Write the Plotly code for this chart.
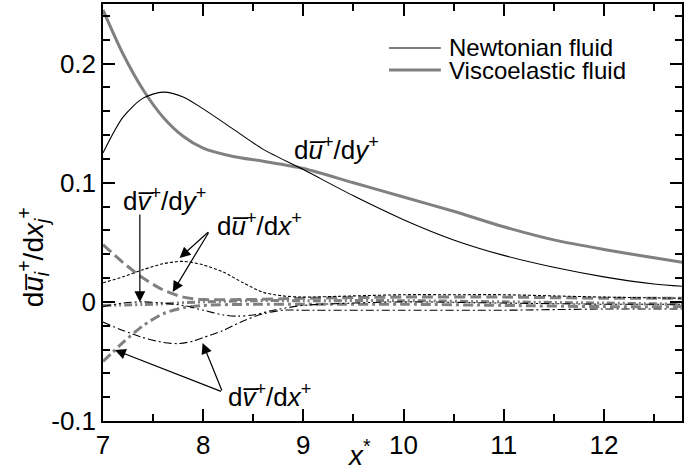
import plotly.graph_objects as go

FONT = "Arial, Liberation Sans, sans-serif"
GRAY = "rgb(128,128,128)"

# --- data ---
x_dudy = [7.0, 7.2, 7.4, 7.6, 7.8, 8.0, 8.3, 8.6, 9.0, 9.5, 10.0, 10.5, 11.0, 11.5, 12.0, 12.5, 12.8]
newt_dudy = [0.125, 0.155, 0.171, 0.176, 0.172, 0.162, 0.145, 0.128, 0.111, 0.089, 0.069, 0.052, 0.039, 0.029, 0.021, 0.015, 0.013]
visc_dudy = [0.245, 0.208, 0.178, 0.155, 0.139, 0.129, 0.122, 0.118, 0.112, 0.100, 0.088, 0.076, 0.063, 0.052, 0.044, 0.037, 0.033]

x_newt_dudx = [7.0, 7.2, 7.4, 7.6, 7.8, 8.0, 8.2, 8.4, 8.6, 8.8, 9.0, 9.5, 10.0, 10.5, 11.0, 11.5, 12.0, 12.8]
newt_dudx = [0.016, 0.021, 0.027, 0.032, 0.034, 0.031, 0.025, 0.016, 0.008, 0.005, 0.004, 0.005, 0.006, 0.006, 0.006, 0.005, 0.004, 0.003]

x_visc_dudx = [7.0, 7.2, 7.4, 7.6, 7.8, 8.0, 8.5, 9.0, 10.0, 11.0, 12.0, 12.8]
visc_dudx = [0.048, 0.033, 0.020, 0.010, 0.004, 0.002, 0.002, 0.003, 0.004, 0.004, 0.003, 0.003]

x_newt_dvdy = [7.0, 7.2, 7.4, 7.6, 7.8, 8.0, 8.2, 8.35, 8.5, 8.7, 9.0, 9.5, 10.0, 11.0, 12.0, 12.8]
newt_dvdy = [-0.004, -0.001, 0.000, -0.001, -0.003, -0.007, -0.011, -0.012, -0.011, -0.007, -0.003, -0.001, 0.000, -0.001, -0.002, -0.002]

x_newt_dvdx = [7.0, 7.2, 7.4, 7.6, 7.75, 7.9, 8.0, 8.2, 8.4, 8.6, 8.8, 9.0, 10.0, 11.0, 12.0, 12.8]
newt_dvdx = [-0.017, -0.024, -0.030, -0.034, -0.035, -0.033, -0.030, -0.024, -0.016, -0.010, -0.007, -0.007, -0.007, -0.007, -0.006, -0.006]

x_visc_dvdx = [7.0, 7.1, 7.2, 7.4, 7.6, 7.8, 8.0, 8.5, 9.0, 10.0, 11.0, 12.0, 12.8]
visc_dvdx = [-0.050, -0.042, -0.034, -0.020, -0.010, -0.005, -0.003, -0.002, -0.002, -0.002, -0.003, -0.004, -0.004]

x_visc_dvdy = [7.0, 7.5, 8.0, 8.5, 9.0, 10.0, 11.0, 12.0, 12.8]
visc_dvdy = [-0.003, -0.002, 0.000, 0.001, 0.001, 0.001, 0.000, -0.001, -0.002]

x_ticks = [7, 8, 9, 10, 11, 12]
x_ticktext = ["7", "8", "9", "10", "11", "12"]
y_ticks = [-0.1, 0, 0.1, 0.2]
y_ticktext = ["-0.1", "0", "0.1", "0.2"]
legend_names = ["Newtonian fluid", "Viscoelastic fluid"]

OV = "\u0305"  # combining overline

fig = go.Figure()

def add(x, y, color, width, dash):
    fig.add_trace(go.Scatter(x=x, y=y, mode="lines",
                             line=dict(color=color, width=width, dash=dash, shape="spline", smoothing=0.8),
                             showlegend=False, hoverinfo="skip"))

add(x_visc_dvdy, visc_dvdy, GRAY, 3, "8px,3px,2px,3px,2px,3px")
add(x_visc_dvdx, visc_dvdx, GRAY, 3, "10px,4px,3px,4px")
add(x_visc_dudx, visc_dudx, GRAY, 3, "11px,5px")
add(x_dudy, visc_dudy, GRAY, 3, "solid")
add(x_newt_dvdy, newt_dvdy, "black", 1.1, "8px,3px,2px,3px,2px,3px")
add(x_newt_dvdx, newt_dvdx, "black", 1.1, "8px,3px,2px,3px")
add(x_newt_dudx, newt_dudx, "black", 1.1, "3px,2px")
add(x_dudy, newt_dudy, "black", 1.1, "solid")

axis_common = dict(showline=True, linecolor="black", linewidth=1.5, mirror="ticks",
                   ticks="inside", ticklen=12, tickwidth=1.5, tickcolor="black",
                   showgrid=False, zeroline=False,
                   tickfont=dict(family=FONT, size=26, color="black"))

fig.update_xaxes(range=[7, 12.78], tickvals=x_ticks, ticktext=x_ticktext,
                 minor=dict(ticks="inside", ticklen=7, tickwidth=1.5, tickcolor="black", dtick=0.5, tick0=7, showgrid=False),
                 **axis_common)
fig.update_yaxes(range=[-0.1, 0.25], tickvals=y_ticks, ticktext=y_ticktext,
                 minor=dict(ticks="inside", ticklen=7, tickwidth=1.5, tickcolor="black", dtick=0.02, tick0=0, showgrid=False),
                 **axis_common)

annots = []
lab_font = dict(family=FONT, size=26, color="black")
C = dict(xanchor="center", yanchor="middle", showarrow=False)
annots.append(dict(x=9.326, y=0.129, xref="x", yref="y", font=lab_font,
                   text=f"d<i>u{OV}</i><sup>+</sup>/d<i>y</i><sup>+</sup>", **C))
annots.append(dict(x=7.616, y=0.0856, xref="x", yref="y", font=lab_font,
                   text=f"d<i>v{OV}</i><sup>+</sup>/d<i>y</i><sup>+</sup>", **C))
annots.append(dict(x=8.561, y=0.0646, xref="x", yref="y", font=lab_font,
                   text=f"d<i>u{OV}</i><sup>+</sup>/d<i>x</i><sup>+</sup>", **C))
annots.append(dict(x=8.66, y=-0.0782, xref="x", yref="y", font=lab_font,
                   text=f"d<i>v{OV}</i><sup>+</sup>/d<i>x</i><sup>+</sup>", **C))

arrows = [((7.368, 0.0746), (7.368, -0.0001)),
          ((8.064, 0.0595), (7.765, 0.0369)),
          ((8.064, 0.0595), (7.696, 0.0083)),
          ((8.193, -0.0756), (7.119, -0.0404)),
          ((8.193, -0.0756), (7.994, -0.0345))]
for (tx, ty), (hx, hy) in arrows:
    annots.append(dict(x=hx, y=hy, ax=tx, ay=ty, xref="x", yref="y", axref="x", ayref="y",
                       text="", showarrow=True, arrowhead=2, arrowsize=1.8, arrowwidth=1.2,
                       arrowcolor="black", standoff=0, startstandoff=0))

# axis titles
annots.append(dict(x=0.442, y=-0.077, xref="paper", yref="paper",
                   text="<i>x</i><sup>*</sup>", font=dict(family=FONT, size=28, color="black"), **C))
annots.append(dict(x=-0.1205, y=0.393, xref="paper", yref="paper", textangle=-90,
                   text=f"d<i>u{OV}</i><sub><i>i</i></sub><sup>+</sup>/d<i>x</i><sub><i>j</i></sub><sup>+</sup>",
                   font=dict(family=FONT, size=28, color="black"), **C))

# legend
leg_y = [0.8945, 0.8417]
leg_style = [("black", 1.1), (GRAY, 3)]
shapes = []
for name, yy, (c, w) in zip(legend_names, leg_y, leg_style):
    shapes.append(dict(type="line", xref="paper", yref="paper", x0=0.494, x1=0.5835, y0=yy, y1=yy,
                       line=dict(color=c, width=w)))
    annots.append(dict(x=0.594, y=yy, xref="paper", yref="paper", xanchor="left", yanchor="middle",
                       showarrow=False, text=name, font=dict(family=FONT, size=24, color="black")))

fig.update_layout(width=685, height=473, margin=dict(l=103, r=1, t=4, b=52),
                  paper_bgcolor="white", plot_bgcolor="white",
                  showlegend=False, annotations=annots, shapes=shapes)

fig.write_html("out.html")
